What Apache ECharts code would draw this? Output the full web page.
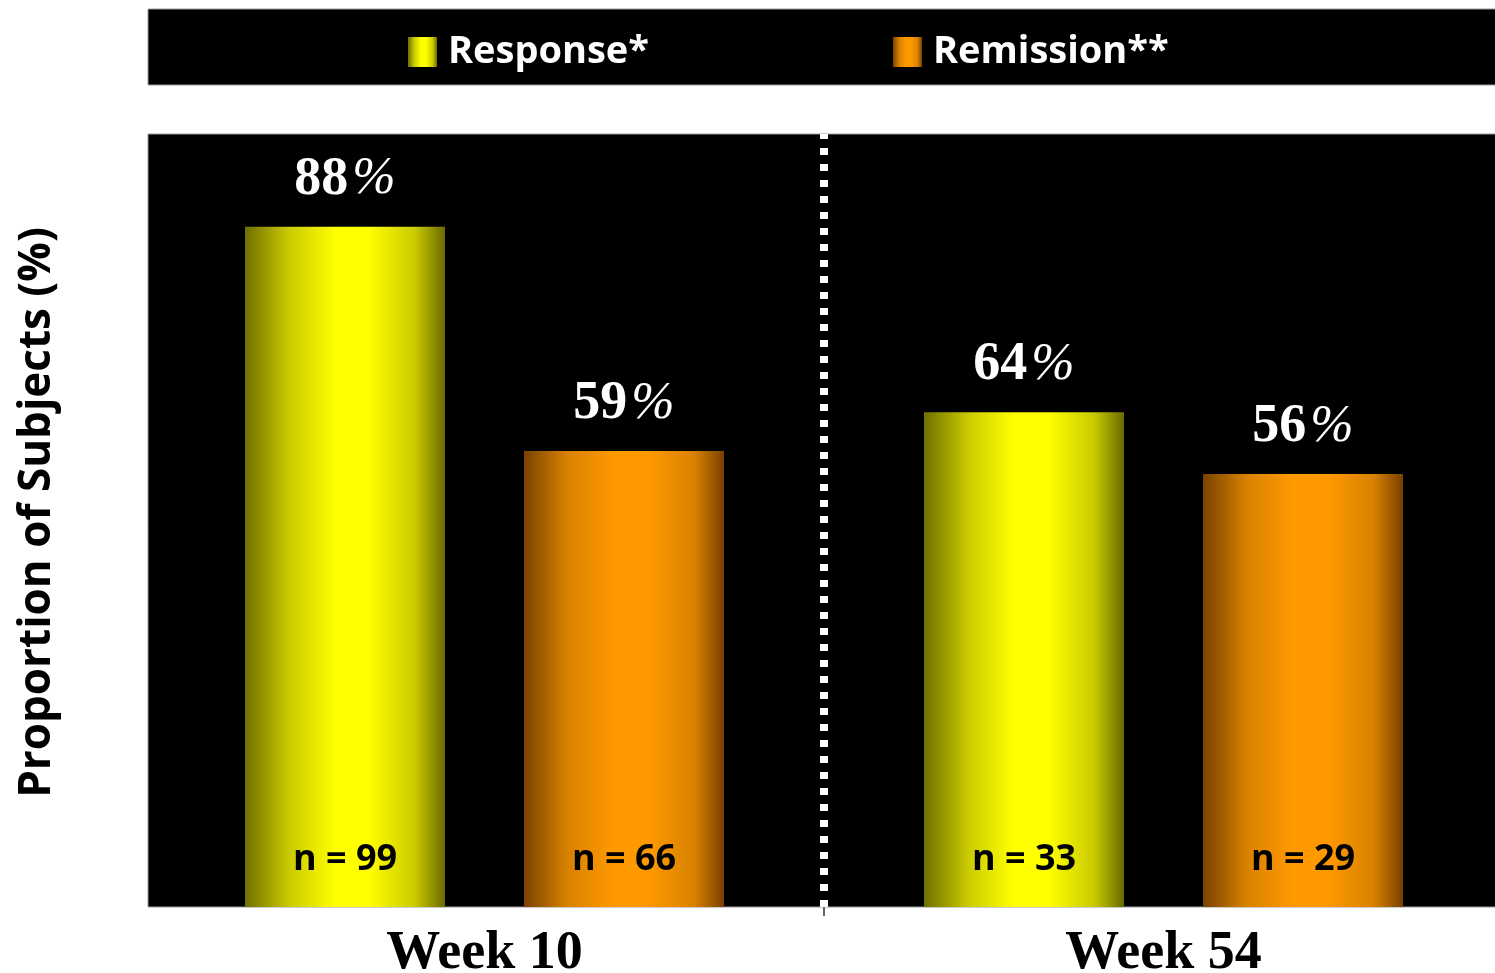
<!DOCTYPE html>
<html>
<head>
<meta charset="utf-8">
<script src="https://cdn.jsdelivr.net/npm/echarts@6/dist/echarts.min.js"></script>
<style>
  html, body { margin: 0; padding: 0; background: #ffffff; overflow: hidden; }
  #chart { width: 1495px; height: 973px; }
</style>
</head>
<body>
<div id="chart"></div>
<script>
// Timepoints and outcome rates (%)
const weeks = ['Week 10', 'Week 54'];
const responseRate = [88, 64];
const remissionRate = [59, 56];
// Number of subjects behind each bar
const responseN = [99, 33];
const remissionN = [66, 29];
const seriesNames = ['Response*', 'Remission**'];

function barGradient(edgeL, mid, peak, edgeR) {
  return new echarts.graphic.LinearGradient(0, 0, 1, 0, [
    { offset: 0, color: edgeL },
    { offset: 0.22, color: mid },
    { offset: 0.45, color: peak },
    { offset: 0.62, color: peak },
    { offset: 0.85, color: mid },
    { offset: 1, color: edgeR }
  ]);
}
const yellowFill = barGradient('#6f6f00', '#caca00', '#ffff00', '#6a6a00');
const orangeFill = barGradient('#7a4200', '#d98200', '#ff9900', '#784000');

const pctLabel = {
  show: true,
  position: 'top',
  distance: 20,
  formatter: p => '{v|' + p.value + '}{p|%}',
  rich: {
    v: { fontFamily: 'Liberation Serif', fontWeight: 'bold', fontSize: 54, color: '#ffffff' },
    p: { fontFamily: 'Liberation Serif', fontStyle: 'italic', fontWeight: 'normal', fontSize: 52, color: '#ffffff', padding: [0, 0, 0, 4] }
  }
};

function nMarks(counts) {
  return {
    symbol: 'rect',
    symbolSize: 1,
    itemStyle: { color: 'rgba(0,0,0,0)' },
    label: {
      show: true,
      position: 'inside',
      offset: [0, -47],
      formatter: p => 'n = ' + p.value,
      fontFamily: 'Open Sans',
      fontWeight: 'bold',
      fontSize: 36,
      color: '#000000'
    },
    data: counts.map((n, i) => ({ coord: [i, 0], value: n }))
  };
}

const legendText = { color: '#ffffff', fontFamily: 'Open Sans', fontWeight: 'bold', fontSize: 38, padding: [0, 0, 0, 6] };

const chart = echarts.init(document.getElementById('chart'), null, { renderer: 'canvas' });

chart.setOption({
  backgroundColor: '#ffffff',
  animation: false,
  graphic: [
    {
      // legend band
      type: 'rect',
      shape: { x: 148, y: 9, width: 1360, height: 76 },
      style: { fill: '#000000', stroke: '#9a9a9a', lineWidth: 1 },
      z: -1
    },
    {
      // plot panel
      type: 'rect',
      shape: { x: 148, y: 134, width: 1360, height: 773 },
      style: { fill: '#000000', stroke: '#9a9a9a', lineWidth: 1 },
      z: -1
    }
  ],
  legend: [
    {
      data: [seriesNames[0]],
      left: 408, top: 33, padding: 0,
      icon: 'rect', itemWidth: 29, itemHeight: 30, itemGap: 0,
      textStyle: legendText
    },
    {
      data: [seriesNames[1]],
      left: 893, top: 33, padding: 0,
      icon: 'rect', itemWidth: 29, itemHeight: 30, itemGap: 0,
      textStyle: legendText
    }
  ],
  grid: {
    left: 145, right: -8, top: 134, bottom: 66,
    outerBoundsMode: 'none',
    containLabel: false,
    show: false
  },
  xAxis: [
    {
      type: 'category',
      data: weeks,
      axisLine: { show: false },
      axisTick: { show: false },
      axisLabel: {
        margin: 20,
        fontFamily: 'Liberation Serif', fontWeight: 'bold', fontSize: 54, color: '#000000'
      }
    },
    {
      // helper axis: 0..2 spans the two timepoint bands, 1 is the boundary
      type: 'value', min: 0, max: 2,
      position: 'bottom',
      axisLine: { show: false },
      axisLabel: { show: false },
      splitLine: { show: false },
      axisTick: {
        show: true, length: 9,
        customValues: [1],
        lineStyle: { color: '#666666', width: 2 }
      }
    }
  ],
  yAxis: {
    type: 'value',
    min: 0, max: 100,
    axisLine: { show: false },
    axisTick: { show: false },
    axisLabel: { show: false },
    splitLine: { show: false },
    name: 'Proportion of Subjects (%)',
    nameLocation: 'middle',
    nameGap: 86,
    nameTextStyle: { fontFamily: 'Open Sans', fontWeight: 'bold', fontSize: 44, color: '#000000', padding: [0, 0, 0, 16] }
  },
  series: [
    {
      name: seriesNames[0],
      type: 'bar',
      data: responseRate,
      barWidth: 200,
      barGap: '39.5%',
      itemStyle: { color: yellowFill },
      label: pctLabel,
      markPoint: nMarks(responseN)
    },
    {
      name: seriesNames[1],
      type: 'bar',
      data: remissionRate,
      barWidth: 200,
      barGap: '39.5%',
      itemStyle: { color: orangeFill },
      label: pctLabel,
      markPoint: nMarks(remissionN)
    },
    {
      // vertical divider between the two timepoints
      name: 'divider',
      type: 'line',
      xAxisIndex: 1,
      data: [],
      markLine: {
        silent: true,
        symbol: 'none',
        label: { show: false },
        lineStyle: { color: '#ffffff', type: [7, 9], width: 8 },
        data: [{ xAxis: 1 }]
      }
    }
  ]
});
</script>
</body>
</html>
